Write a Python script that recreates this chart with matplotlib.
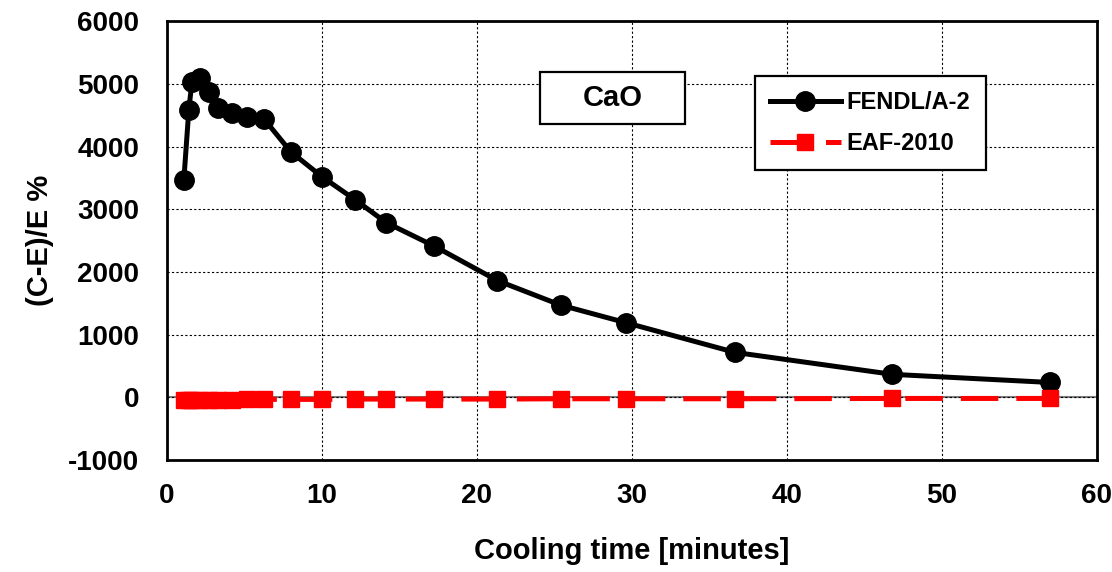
import numpy as np
import matplotlib
matplotlib.use('Agg')
from matplotlib import pyplot as plt
from matplotlib.patches import Rectangle

plt.rcParams['font.family'] = ['Liberation Sans', 'DejaVu Sans']
plt.rcParams['font.weight'] = 'bold'
plt.rcParams['axes.unicode_minus'] = False

# cooling time [minutes]
t = [1.1, 1.42, 1.62, 2.13, 2.71, 3.3, 4.2, 5.17, 6.27, 8.0, 10.0, 12.15,
     14.16, 17.26, 21.33, 25.4, 29.6, 36.65, 46.8, 57.0]
# (C-E)/E %
fendl = [3470, 4585, 5030, 5095, 4870, 4620, 4540, 4475, 4440, 3915, 3520,
         3150, 2785, 2410, 1860, 1470, 1190, 715, 365, 235]
eaf = [-40, -40, -40, -40, -40, -40, -40, -35, -35, -35, -35, -30,
       -30, -30, -30, -25, -25, -25, -20, -20]

fig = plt.figure(figsize=(11.12, 5.72), dpi=100)
ax = fig.add_axes([0.150, 0.196, 0.8365, 0.767])

ax.axhline(0, color='#808080', lw=1.5, zorder=1)
ax.plot(t, fendl, '-o', color='black', lw=3.6, ms=14, label='FENDL/A-2', zorder=3)
ax.plot(t, eaf, '--s', color='red', lw=3.6, ms=11, dashes=(7.5, 3.6),
        label='EAF-2010', zorder=3)

ax.set_xlim(0, 60)
ax.set_ylim(-1000, 6000)
ax.set_xticks(np.arange(0, 61, 10))
ax.set_yticks(np.arange(-1000, 6001, 1000))
ax.grid(True, color='black', linestyle=(0, (2, 2)), lw=0.8)
ax.tick_params(length=0, labelsize=20)
ax.tick_params(axis='x', pad=17)
ax.tick_params(axis='y', pad=20)
for s in ax.spines.values():
    s.set_linewidth(2)

ax.set_xlabel('Cooling time [minutes]', fontsize=21, fontweight='bold', labelpad=20)
ax.set_ylabel('(C-E)/E %', fontsize=21, fontweight='bold', labelpad=10)

# CaO label box
ax.add_patch(Rectangle((0.401, 0.765), 0.156, 0.119, transform=ax.transAxes,
                       fc='white', ec='black', lw=1.6, zorder=4))
ax.text(0.479, 0.825, 'CaO', transform=ax.transAxes, fontsize=21,
        fontweight='bold', ha='center', va='center', zorder=5)

leg = ax.legend(loc='upper left', bbox_to_anchor=(0.632, 0.875), fontsize=17,
                frameon=True, fancybox=False, edgecolor='black', framealpha=1,
                handlelength=3.0, handletextpad=0.25, borderpad=0.65,
                labelspacing=0.75, borderaxespad=0)
leg.get_frame().set_linewidth(1.6)

plt.savefig('out.png', dpi=100)
